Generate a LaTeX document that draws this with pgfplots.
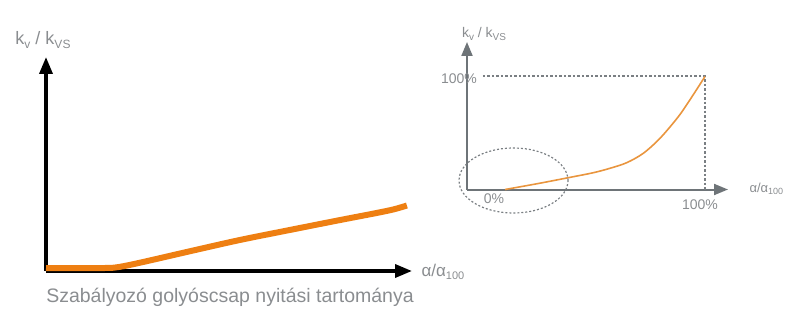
\documentclass[border=0pt]{standalone}
\usepackage{fontspec}
\setmainfont{Liberation Sans}
\usepackage{pgfplots}
\pgfplotsset{compat=1.18}
\usetikzlibrary{arrows.meta}
\definecolor{og}{HTML}{EE7F12}
\definecolor{og2}{HTML}{E9953E}
\definecolor{gtxt}{HTML}{8A8D90}
\definecolor{gax}{HTML}{6E7478}
\definecolor{gdash}{HTML}{7A7F83}
\newcommand{\sub}[2]{\raisebox{-0.35ex}{\fontsize{#1}{#1}\selectfont #2}}
\begin{document}
\begin{tikzpicture}[x=1pt,y=1pt]
\path[use as bounding box] (0,0) rectangle (800,319);
% left chart
\begin{axis}[at={(46pt,48pt)}, anchor=south west, scale only axis,
  width=366pt, height=214pt, xmin=0, xmax=100, ymin=0, ymax=100,
  axis lines=left, xtick=\empty, ytick=\empty, clip=false,
  axis line style={black, line width=3.5pt, -{Triangle[length=17pt,width=13pt]}}]
\addplot[og, line width=6pt, smooth, line cap=butt] coordinates {
(0,1.4) (16,1.4) (20,1.9) (26,4) (40,9.5) (53,14.5) (67,19.3) (80.3,23.8) (90,27) (95,28.8) (98.6,30.6)};
\end{axis}
% right chart
\begin{axis}[at={(467pt,129.5pt)}, anchor=south west, scale only axis,
  width=261pt, height=147.5pt, xmin=0, xmax=109.7, ymin=0, ymax=130,
  axis lines=left, xtick=\empty, ytick=\empty, clip=false,
  axis line style={gax, line width=2pt, -{Triangle[length=14pt,width=11pt]}}]
\addplot[gdash, line width=1.2pt, dash pattern=on 2.5pt off 2pt] coordinates {(6.7,100) (100,100) (100,0)};
\addplot[og2, line width=1.6pt, smooth] coordinates {
(16,0) (30,5.3) (43.3,10.7) (53.1,14.8) (60.1,18.7) (67.1,23.6) (74.1,31.9) (81.1,45.1) (88.8,64.1) (94,80) (100,99.5)};
\end{axis}
\draw[gdash, line width=1.2pt, dash pattern=on 2pt off 2pt] (513.5,138.5) ellipse [x radius=54.5pt, y radius=32.5pt];
% texts
\node[gtxt, font=\fontsize{18}{20}\selectfont] at (43,279) {k\sub{12}{v} / k\sub{12}{VS}};
\node[gtxt, font=\fontsize{17}{20}\selectfont, anchor=west] at (418,47) {α/α\sub{11}{100}};
\node[gtxt, font=\fontsize{19.5}{22}\selectfont] at (230,22) {Szabályozó golyóscsap nyitási tartománya};
\node[gtxt, font=\fontsize{14}{16}\selectfont] at (484,285) {k\sub{10}{v} / k\sub{10}{VS}};
\node[gtxt, font=\fontsize{14}{16}\selectfont] at (459,240) {100\%};
\node[gtxt, font=\fontsize{14}{16}\selectfont] at (494,120) {0\%};
\node[gtxt, font=\fontsize{14}{16}\selectfont] at (700,114) {100\%};
\node[gtxt, font=\fontsize{13}{16}\selectfont, anchor=west] at (746,130) {α/α\sub{9}{100}};
\end{tikzpicture}
\end{document}
